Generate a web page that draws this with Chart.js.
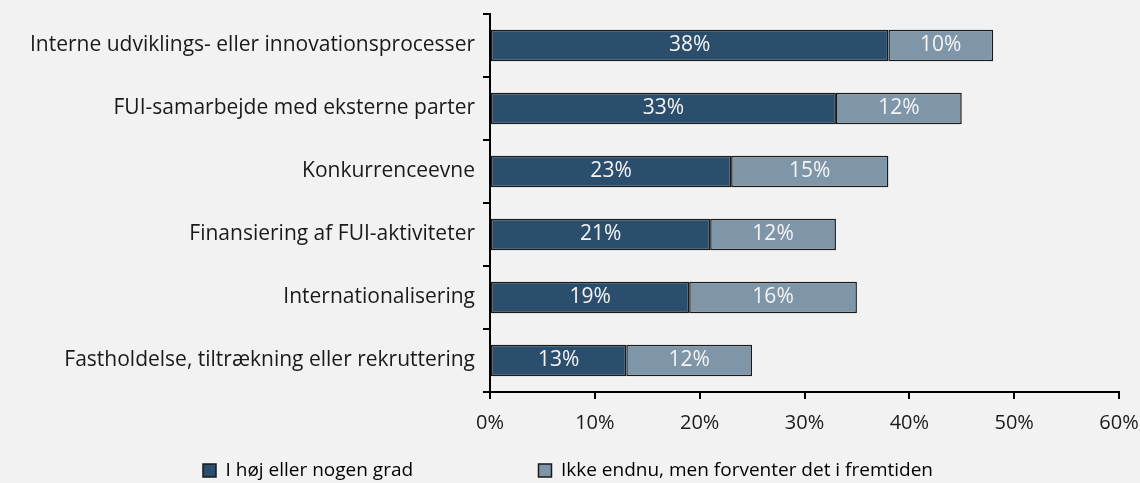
<!DOCTYPE html>
<html>
<head>
<meta charset="utf-8">
<script src="https://cdn.jsdelivr.net/npm/chart.js@4/dist/chart.umd.min.js"></script>
<style>
    html, body { margin: 0; padding: 0; background: #f2f2f2; }
    #wrap { width: 1140px; height: 483px; position: relative; }
</style>
</head>
<body>
<div id="wrap"><canvas id="chart"></canvas></div>
<script>
// Chart data
const categories = [
    'Interne udviklings- eller innovationsprocesser',
    'FUI-samarbejde med eksterne parter',
    'Konkurrenceevne',
    'Finansiering af FUI-aktiviteter',
    'Internationalisering',
    'Fastholdelse, tiltrækning eller rekruttering'
];
const highDegree = [38, 33, 23, 21, 19, 13];
const expectFuture = [10, 12, 15, 12, 16, 12];
const seriesNames = ['I høj eller nogen grad', 'Ikke endnu, men forventer det i fremtiden'];
const xTicks = [0, 10, 20, 30, 40, 50, 60];

const FONT = '"Open Sans", sans-serif';

// Draw the values inside the bars
const barLabels = {
    id: 'barLabels',
    afterDatasetsDraw(chart) {
        const ctx = chart.ctx;
        ctx.save();
        ctx.fillStyle = '#f4f4f4';
        ctx.font = '21px ' + FONT;
        ctx.textAlign = 'center';
        ctx.textBaseline = 'middle';
        chart.data.datasets.forEach((ds, i) => {
            chart.getDatasetMeta(i).data.forEach((bar, j) => {
                const left = Math.min(bar.x, bar.base);
                const right = Math.max(bar.x, bar.base);
                ctx.fillText(ds.data[j] + '%', (left + right) / 2, bar.y);
            });
        });
        ctx.restore();
    }
};

// Move the legend to where it sits in the original
const legendShift = {
    id: 'legendShift',
    afterLayout(chart) {
        const lg = chart.legend;
        const w = lg.right - lg.left;
        lg.left = 201;
        lg.right = lg.left + w;
        lg.top += 7;
        lg.bottom += 7;
    }
};

document.addEventListener('DOMContentLoaded', function() {
    const ctx = document.getElementById('chart').getContext('2d');
    new Chart(ctx, {
        type: 'bar',
        data: {
            labels: categories,
            datasets: [{
                label: seriesNames[0],
                data: highDegree,
                backgroundColor: '#2a4e6c',
                borderColor: '#1a1a1a',
                borderWidth: 1.5,
                borderSkipped: false,
                categoryPercentage: 1,
                barPercentage: 0.5
            }, {
                label: seriesNames[1],
                data: expectFuture,
                backgroundColor: '#7f95a8',
                borderColor: '#1a1a1a',
                borderWidth: 1.5,
                borderSkipped: false,
                categoryPercentage: 1,
                barPercentage: 0.5
            }]
        },
        options: {
            indexAxis: 'y',
            responsive: true,
            maintainAspectRatio: false,
            animation: false,
            layout: {
                padding: { top: 14, right: 0, left: 0, bottom: 0 }
            },
            plugins: {
                legend: {
                    position: 'bottom',
                    align: 'start',
                    labels: {
                        color: '#1a1a1a',
                        font: { family: FONT, size: 19 },
                        boxWidth: 13,
                        boxHeight: 13,
                        padding: 2,
                        generateLabels(chart) {
                            return chart.data.datasets.map((ds, i) => ({
                                text: ds.label + (i === 0 ? '                         ' : ''),
                                fillStyle: ds.backgroundColor,
                                strokeStyle: '#1a1a1a',
                                lineWidth: 1.5,
                                datasetIndex: i
                            }));
                        }
                    }
                },
                tooltip: { enabled: false }
            },
            scales: {
                x: {
                    stacked: true,
                    min: 0,
                    max: 60,
                    afterBuildTicks(axis) {
                        axis.ticks = xTicks.map(v => ({ value: v }));
                    },
                    afterFit(axis) {
                        axis.height = 60;
                        axis.paddingRight = 21;
                    },
                    border: { color: '#000000', width: 2 },
                    grid: {
                        drawOnChartArea: false,
                        color: '#000000',
                        lineWidth: 2,
                        tickLength: 7
                    },
                    ticks: {
                        color: '#1a1a1a',
                        font: { family: FONT, size: 20 },
                        padding: 12,
                        callback: value => value + '%'
                    }
                },
                y: {
                    stacked: true,
                    afterFit(axis) {
                        axis.width = 490;
                        axis.paddingTop = 0;
                        axis.paddingBottom = 0;
                    },
                    border: { color: '#000000', width: 2 },
                    grid: {
                        offset: true,
                        drawOnChartArea: false,
                        color: '#000000',
                        lineWidth: 2,
                        tickLength: 7
                    },
                    ticks: {
                        color: '#1a1a1a',
                        font: { family: FONT, size: 21 },
                        padding: 8
                    }
                }
            }
        },
        plugins: [barLabels, legendShift]
    });
});
</script>
</body>
</html>
